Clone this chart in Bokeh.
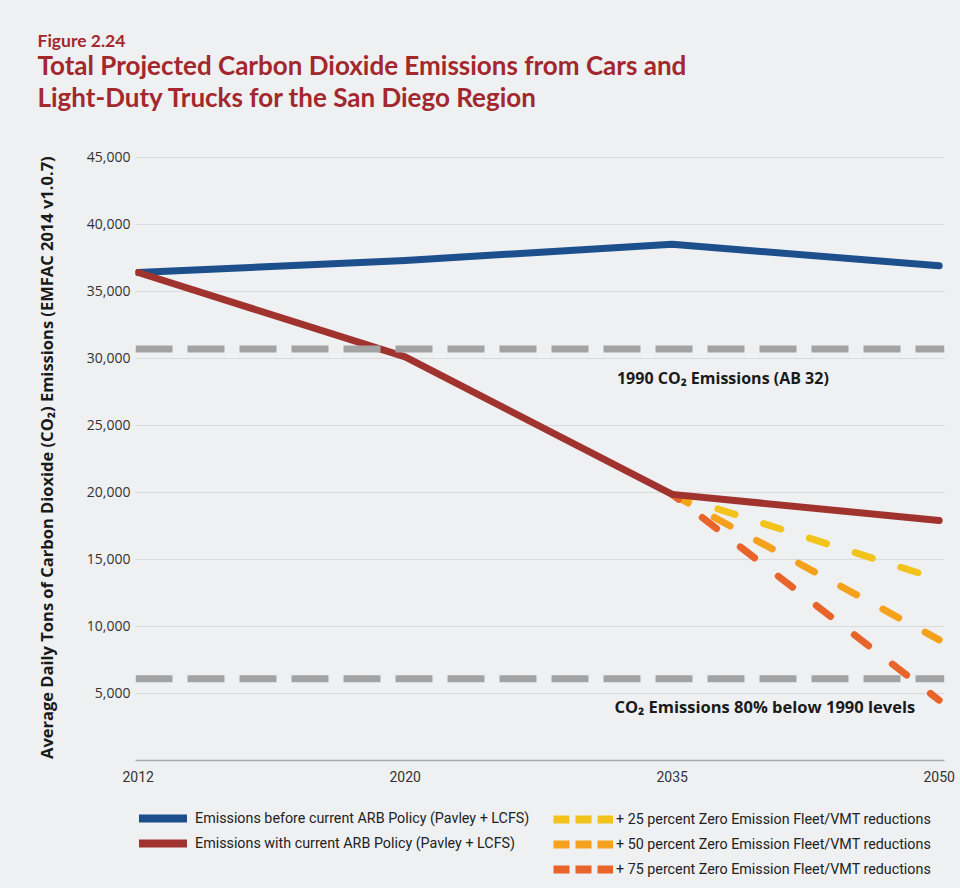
import math
from bokeh.plotting import figure
from bokeh.layouts import column
from bokeh.models import (Range1d, FixedTicker, Span, Label, Legend, LegendItem,
                          Title, NumeralTickFormatter)
from bokeh.embed import file_html
from bokeh.resources import INLINE

# ---------------- data ----------------
years = ["2012", "2020", "2035", "2050"]
before_policy = [36400, 37300, 38500, 36900]
with_policy = [36400, 30100, 19850, 17900]
zev_years = ["2035", "2050"]
zev25 = [19850, 13500]
zev50 = [19850, 9000]
zev75 = [19850, 4500]
level_1990 = 30700
level_80_below = 6100
y_ticks = [5000, 10000, 15000, 20000, 25000, 30000, 35000, 40000, 45000]

x_all = [years.index(y) for y in years]
x_zev = [years.index(y) for y in zev_years]

BG = "#eef0f2"
TITLE_RED = "#a3282d"
BLUE = "#1c4f8c"
RED = "#a1332f"
YELLOW = "#f2c31a"
ORANGE = "#f5a11c"
DORANGE = "#e8642a"
GRAY = "#a3a3a3"
COND = "Roboto"
W = 960
LEFT, RIGHT = 135, 16

p = figure(width=W, height=800, output_backend="svg", toolbar_location=None,
           title=None, x_range=Range1d(-0.01, 3.02), y_range=Range1d(0, 45500),
           min_border_left=LEFT, min_border_right=RIGHT, min_border_top=150,
           min_border_bottom=40)
p.background_fill_color = BG
p.border_fill_color = BG
p.outline_line_color = None

p.xgrid.grid_line_color = None
p.ygrid.ticker = FixedTicker(ticks=y_ticks)
p.ygrid.grid_line_color = "#c4c6c8"
p.ygrid.grid_line_dash = "1 1"
p.ygrid.grid_line_width = 1

p.xaxis.ticker = FixedTicker(ticks=x_all)
p.xaxis.major_label_overrides = {i: y for i, y in zip(x_all, years)}
p.xaxis.major_tick_line_color = None
p.xaxis.major_tick_out = 0
p.xaxis.major_tick_in = 0
p.xaxis.minor_tick_line_color = None
p.xaxis.axis_line_color = "#a8a8a8"
p.xaxis.axis_line_width = 1.5
p.xaxis.major_label_text_font = COND
p.xaxis.major_label_text_font_size = "14px"
p.xaxis.major_label_text_color = "#333333"
p.xaxis.major_label_standoff = 10

p.yaxis.ticker = FixedTicker(ticks=y_ticks)
p.yaxis.formatter = NumeralTickFormatter(format="0,0")
p.yaxis.axis_line_color = None
p.yaxis.major_tick_line_color = None
p.yaxis.major_tick_out = 0
p.yaxis.major_tick_in = 0
p.yaxis.minor_tick_line_color = None
p.yaxis.major_label_text_font = "Open Sans"
p.yaxis.major_label_text_font_size = "14px"
p.yaxis.major_label_text_color = "#333333"
p.yaxis.major_label_standoff = 5
p.yaxis.axis_label = "Average Daily Tons of Carbon Dioxide  (CO\u2082) Emissions (EMFAC 2014 v1.0.7)"
p.yaxis.axis_label_text_font = "Open Sans"
p.yaxis.axis_label_text_font_style = "bold"
p.yaxis.axis_label_text_font_size = "16.5px"
p.yaxis.axis_label_text_color = "#1a1a1a"
p.yaxis.axis_label_standoff = 26

# reference levels
p.add_layout(Span(location=level_1990, dimension="width", line_color=GRAY,
                  line_width=7, line_dash="37 15"))
p.add_layout(Span(location=level_80_below, dimension="width", line_color=GRAY,
                  line_width=7, line_dash="37 15"))

# series
p.line(x_zev, zev25, line_color=YELLOW, line_width=7, line_dash="18 30", line_cap="round")
p.line(x_zev, zev50, line_color=ORANGE, line_width=7, line_dash="18 30", line_cap="round")
p.line(x_zev, zev75, line_color=DORANGE, line_width=7, line_dash="18 30", line_cap="round",
       line_dash_offset=10)
p.line(x_all, before_policy, line_color=BLUE, line_width=7, line_cap="round", line_join="round")
p.line(x_all, with_policy, line_color=RED, line_width=7, line_cap="round", line_join="round")

p.add_layout(Label(x=2.19, y=28500, text="1990 CO\u2082 Emissions (AB 32)",
                   text_align="center", text_baseline="middle", text_font="Open Sans",
                   text_font_style="bold", text_font_size="16px", text_color="#1a1a1a"))
p.add_layout(Label(x=2.91, y=4000, text="CO\u2082 Emissions 80% below 1990 levels",
                   text_align="right", text_baseline="middle", text_font="Open Sans",
                   text_font_style="bold", text_font_size="16.5px", text_color="#1a1a1a"))

# titles (stacked upward from the plot frame)
p.add_layout(Title(text=" ", text_font="Lato", text_font_size="30px", standoff=0,
                   align="left", offset=-98), "above")
p.add_layout(Title(text="Total Projected Carbon Dioxide Emissions from Cars and\nLight-Duty Trucks for the San Diego Region",
                   text_font="Lato", text_font_style="bold", text_font_size="26px",
                   text_line_height=1.0, text_color=TITLE_RED, align="left",
                   offset=-98, standoff=0), "above")
p.add_layout(Title(text="Figure 2.24", text_font="Lato", text_font_style="bold",
                   text_font_size="17.5px", text_color=TITLE_RED, align="left", offset=-98,
                   standoff=-8), "above")

# ---------------- legend strip ----------------
LH = 88
lf = figure(width=W, height=LH, output_backend="svg", toolbar_location=None,
            x_range=Range1d(0, W - LEFT - RIGHT), y_range=Range1d(0, LH),
            x_axis_type=None, y_axis_type=None, title=None,
            min_border_left=LEFT, min_border_right=RIGHT, min_border_top=0,
            min_border_bottom=0)
lf.background_fill_color = BG
lf.border_fill_color = BG
lf.outline_line_color = None
lf.xgrid.visible = False
lf.ygrid.visible = False

nan = [math.nan]
r_b = lf.line(nan, nan, line_color=BLUE, line_width=8, line_cap="round")
r_r = lf.line(nan, nan, line_color=RED, line_width=8, line_cap="round")
r_y = lf.line(nan, nan, line_color=YELLOW, line_width=8, line_dash="16 6")
r_o = lf.line(nan, nan, line_color=ORANGE, line_width=8, line_dash="16 6")
r_d = lf.line(nan, nan, line_color=DORANGE, line_width=8, line_dash="16 6")


def make_legend(items, loc, gw, standoff):
    return Legend(items=items, location=loc, orientation="vertical",
                  background_fill_alpha=0, border_line_alpha=0, padding=0, margin=0,
                  spacing=5, glyph_width=gw, glyph_height=20, label_height=20,
                  label_standoff=standoff, label_text_font=COND,
                  label_text_font_size="14.3px", label_text_color="#222222")


leg1 = make_legend([
    LegendItem(label="Emissions before current ARB Policy (Pavley + LCFS)", renderers=[r_b]),
    LegendItem(label="Emissions with current ARB Policy (Pavley + LCFS)", renderers=[r_r]),
], (4, 35), 48, 8)
leg2 = make_legend([
    LegendItem(label="+ 25 percent Zero Emission Fleet/VMT reductions", renderers=[r_y]),
    LegendItem(label="+ 50 percent Zero Emission Fleet/VMT reductions", renderers=[r_o]),
    LegendItem(label="+ 75 percent Zero Emission Fleet/VMT reductions", renderers=[r_d]),
], (418, 9), 60, 3)
lf.add_layout(leg1, "center")
lf.add_layout(leg2, "center")

layout = column(p, lf, spacing=0, styles={"background-color": BG})
open("out.html", "w").write(file_html(layout, INLINE))
